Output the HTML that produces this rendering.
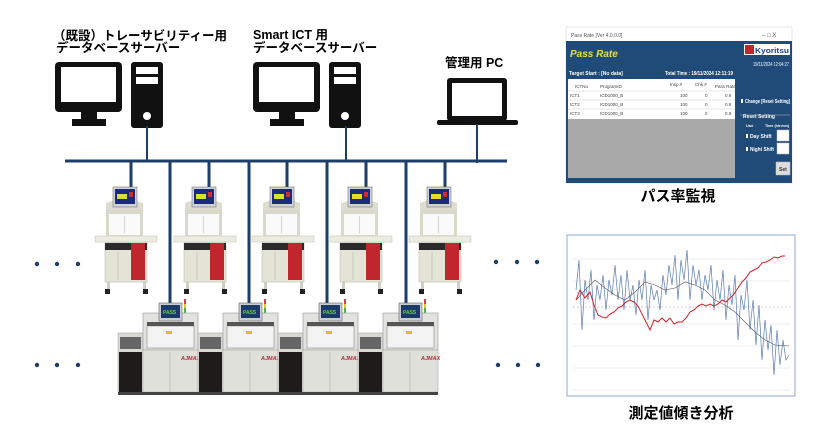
<!DOCTYPE html>
<html><head><meta charset="utf-8"><style>
html,body{margin:0;padding:0;background:#fff;}
svg{display:block;}
text{font-family:"Liberation Sans","Noto Sans CJK JP",sans-serif;}
</style></head><body>
<svg width="830" height="440" viewBox="0 0 830 440" xmlns="http://www.w3.org/2000/svg">
<defs>
<g id="top">
 <rect x="12" y="280" width="3" height="10" fill="#cfcfc4"/><rect x="48" y="280" width="3" height="10" fill="#cfcfc4"/>
 <rect x="10" y="289" width="5" height="5" fill="#222"/><rect x="48" y="289" width="5" height="5" fill="#222"/>
 <rect x="10" y="242" width="42" height="40" fill="#e3e3d6" stroke="#bdbdb0" stroke-width="0.6"/>
 <rect x="10" y="243" width="42" height="7" fill="#2a2a2a"/>
 <rect x="36" y="243" width="14" height="37" fill="#c0272d"/>
 <line x1="23" y1="252" x2="23" y2="280" stroke="#b7b7aa" stroke-width="0.6"/>
 <rect x="0" y="236" width="62" height="6" fill="#ecece2" stroke="#c5c5b8" stroke-width="0.6"/>
 <rect x="11" y="210" width="37" height="26" fill="#d8d8cb"/>
 <rect x="14" y="214" width="31" height="21" fill="#fafafa"/>
 <line x1="29.5" y1="216" x2="29.5" y2="233" stroke="#ccc" stroke-width="0.8"/>
 <path d="M11 210 L11 203 Q29 196 48 203 L48 210 Z" fill="#dddccf"/>
 <rect x="18" y="187" width="24" height="20" fill="#cfd2d6" stroke="#777" stroke-width="0.6"/>
 <rect x="20" y="189" width="20" height="15" fill="#1b2a7a"/>
 <rect x="22" y="194" width="10" height="5" fill="#d8e030"/>
 <rect x="34" y="192" width="4" height="5" fill="#c83030"/>
</g>
<g id="bot">
 <rect x="0" y="333" width="25" height="59" fill="#d9d9d5" stroke="#aaa" stroke-width="0.6"/>
 <rect x="2" y="337" width="21" height="12" fill="#666"/>
 <rect x="1" y="352" width="23" height="40" fill="#1e1a1a"/>
 <rect x="25" y="313" width="55" height="37" fill="#e2e2de" stroke="#999" stroke-width="0.6"/>
 <rect x="29" y="326" width="47" height="22" fill="#f3f3f3" stroke="#777" stroke-width="0.5"/>
 <rect x="29" y="322" width="47" height="4" fill="#555"/>
 <rect x="48" y="331" width="6" height="3" fill="#e0c020"/>
 <rect x="25" y="350" width="55" height="42" fill="#e0e0db" stroke="#aaa" stroke-width="0.6"/>
 <line x1="52" y1="352" x2="52" y2="392" stroke="#aaa" stroke-width="0.6"/>
 <text x="63" y="360" font-size="5.5" fill="#c0272d" font-style="italic" font-weight="bold" font-family="Liberation Serif,serif">AJMAX</text>
 <rect x="0" y="392" width="80" height="3" fill="#444"/>
 <rect x="41" y="303" width="23" height="18" fill="#c9ccd2" stroke="#666" stroke-width="0.6"/>
 <rect x="43" y="305" width="19" height="13" fill="#1b3a6a"/>
 <text x="45" y="314" font-size="5" fill="#6ad04a" font-weight="bold">PASS</text>
 <rect x="66" y="299" width="2" height="5" fill="#e04040"/><rect x="66" y="304" width="2" height="4" fill="#e8c030"/><rect x="66" y="308" width="2" height="5" fill="#50b050"/>
</g>
</defs>

<text x="53" y="40" font-size="12.5" font-weight="bold">（既設）トレーサビリティー用</text>
<text x="56" y="52" font-size="12.5" font-weight="bold">データベースサーバー</text>
<text x="253" y="39" font-size="12.5" font-weight="bold">Smart ICT 用</text>
<text x="253" y="52" font-size="12.5" font-weight="bold">データベースサーバー</text>
<text x="445" y="67" font-size="12.5" font-weight="bold">管理用 PC</text>

<rect x="55" y="62" width="67" height="50" rx="4" fill="#111"/>
<rect x="61" y="67" width="55" height="35" fill="#fff"/>
<rect x="81" y="112" width="16" height="8" fill="#111"/><rect x="72" y="119" width="34" height="7" fill="#111"/>
<rect x="131" y="62" width="32" height="66" rx="3" fill="#111"/>
<rect x="136" y="67" width="22" height="7" fill="#fff"/><rect x="136" y="77" width="22" height="7" fill="#fff"/>
<circle cx="147" cy="116" r="4" fill="#fff"/>
<rect x="253" y="62" width="67" height="50" rx="4" fill="#111"/>
<rect x="259" y="67" width="55" height="35" fill="#fff"/>
<rect x="279" y="112" width="16" height="8" fill="#111"/><rect x="270" y="119" width="34" height="7" fill="#111"/>
<rect x="329" y="62" width="32" height="66" rx="3" fill="#111"/>
<rect x="334" y="67" width="22" height="7" fill="#fff"/><rect x="334" y="77" width="22" height="7" fill="#fff"/>
<circle cx="345" cy="116" r="4" fill="#fff"/>
<rect x="447" y="78" width="60" height="43" rx="3" fill="#111"/>
<rect x="452" y="83" width="50" height="33" fill="#fff"/>
<rect x="437" y="120" width="81" height="5" rx="2" fill="#111"/>

<g stroke="#1d3d6b" stroke-width="3">
<line x1="65" y1="161" x2="507" y2="161"/>
<line x1="147" y1="126" x2="147" y2="161" stroke-width="2"/>
<line x1="346" y1="126" x2="346" y2="161" stroke-width="2"/>
<line x1="477" y1="124" x2="477" y2="163" stroke-width="2"/>
<line x1="131" y1="161" x2="131" y2="188"/><line x1="209" y1="161" x2="209" y2="188"/><line x1="287" y1="161" x2="287" y2="188"/><line x1="366" y1="161" x2="366" y2="188"/><line x1="445" y1="161" x2="445" y2="188"/>
<line x1="170" y1="161" x2="170" y2="304"/><line x1="249" y1="161" x2="249" y2="304"/><line x1="327" y1="161" x2="327" y2="304"/><line x1="406" y1="161" x2="406" y2="304"/>
</g>

<use href="#top" x="95"/><use href="#top" x="174"/><use href="#top" x="252"/><use href="#top" x="330"/><use href="#top" x="409"/>
<use href="#bot" x="118"/><use href="#bot" x="198"/><use href="#bot" x="278"/><use href="#bot" x="358"/>

<g fill="#1d3d6b">
<circle cx="37" cy="264" r="2.2"/><circle cx="57" cy="264" r="2.2"/><circle cx="78" cy="264" r="2.2"/>
<circle cx="37" cy="365" r="2.2"/><circle cx="57" cy="365" r="2.2"/><circle cx="78" cy="365" r="2.2"/>
<circle cx="496" cy="262" r="2.2"/><circle cx="517" cy="262" r="2.2"/><circle cx="537" cy="262" r="2.2"/>
<circle cx="498" cy="365" r="2.2"/><circle cx="518" cy="365" r="2.2"/><circle cx="538" cy="365" r="2.2"/>
</g>

<rect x="566" y="27" width="226" height="156" fill="#fff" stroke="#ccc" stroke-width="0.5"/>
<text x="571" y="37" font-size="5" fill="#555">Pass Rate [Ver 4.0.0.0]</text>
<text x="762" y="37" font-size="6" fill="#555">–   □   X</text>
<rect x="566" y="41" width="226" height="142" fill="#204a78"/>
<text x="570" y="57" font-size="10" font-weight="bold" font-style="italic" fill="#e8e040">Pass Rate</text>
<rect x="744" y="44" width="46" height="11" fill="#fff"/>
<rect x="745" y="45" width="9" height="9" fill="#c0272d"/>
<text x="755" y="53" font-size="7" font-weight="bold" fill="#1d3d8b" textLength="34" lengthAdjust="spacingAndGlyphs">Kyoritsu</text>
<text x="753" y="66" font-size="5" fill="#fff" textLength="36" lengthAdjust="spacingAndGlyphs">19/11/2024 12:04:27</text>
<text x="569" y="75" font-size="5" fill="#fff" font-weight="bold">Target Start :  [No data]</text>
<text x="665" y="75" font-size="5" fill="#fff" font-weight="bold" textLength="68" lengthAdjust="spacingAndGlyphs">Total Time :  19/11/2024 12:11:19</text>
<rect x="568" y="79" width="167" height="40" fill="#fff"/>
<g stroke="#ccc" stroke-width="0.5"><line x1="568" y1="91" x2="735" y2="91"/><line x1="568" y1="100" x2="735" y2="100"/><line x1="568" y1="109" x2="735" y2="109"/></g>
<g font-size="4.5" fill="#444">
<text x="575" y="88">ICTNo</text><text x="600" y="88">ProgramID</text><text x="670" y="86">Insp.#</text><text x="695" y="86">Chk.#</text><text x="715" y="88">Pass Rate</text>
<text x="570" y="97">ICT1</text><text x="600" y="97">ICD1000_B</text><text x="680" y="97">100</text><text x="705" y="97">0</text><text x="725" y="97">0.9</text>
<text x="570" y="106">ICT2</text><text x="600" y="106">ICD1000_B</text><text x="680" y="106">100</text><text x="705" y="106">0</text><text x="725" y="106">0.9</text>
<text x="570" y="115">ICT3</text><text x="600" y="115">ICD1000_B</text><text x="680" y="115">100</text><text x="705" y="115">0</text><text x="725" y="115">0.9</text>
</g>
<rect x="568" y="119" width="167" height="59" fill="#a9a9a9"/>
<g font-size="5" fill="#fff" font-weight="bold">
<rect x="741" y="99" width="2" height="4" fill="#fff"/><text x="745" y="103" textLength="45" lengthAdjust="spacingAndGlyphs">Change [Reset Setting]</text>
<text x="743" y="118">Reset Setting</text>
<text x="746" y="127" font-size="4">Use</text><text x="765" y="127" font-size="4" textLength="24" lengthAdjust="spacingAndGlyphs">Time (hh:mm)</text>
<rect x="746" y="134" width="2" height="4" fill="#fff"/><text x="750" y="138">Day Shift</text>
<rect x="746" y="147" width="2" height="4" fill="#fff"/><text x="750" y="151" textLength="24" lengthAdjust="spacingAndGlyphs">Night Shift</text>
</g>
<g stroke="#bbb" stroke-width="0.5" fill="#fff"><line x1="740" y1="115" x2="790" y2="115"/>
<rect x="777" y="130" width="12" height="11"/><rect x="777" y="143" width="12" height="11"/>
<rect x="776" y="162" width="14" height="13" fill="#ddd"/></g>
<text x="779" y="171" font-size="5" font-weight="bold" fill="#333">Set</text>
<text x="678" y="201" font-size="15" font-weight="bold" text-anchor="middle">パス率監視</text>

<rect x="567" y="235" width="228" height="161" fill="#fff" stroke="#8fa8d0" stroke-width="1"/>
<g stroke="#e6e6e6" stroke-width="0.7">
<line x1="573" y1="259" x2="790" y2="259"/><line x1="573" y1="281" x2="790" y2="281"/><line x1="573" y1="324" x2="790" y2="324"/><line x1="573" y1="346" x2="790" y2="346"/><line x1="573" y1="368" x2="790" y2="368"/><line x1="573" y1="390" x2="790" y2="390"/>
</g>
<line x1="573" y1="307" x2="790" y2="307" stroke="#999" stroke-width="0.6" stroke-dasharray="2,2"/>
<polyline fill="none" stroke="#5a7bb0" stroke-width="0.7" points="576,290 579,260 582,330 585,280 588,300 591,270 594,320 597,285 600,300 603,275 606,310 609,280 612,295 615,265 618,300 621,275 624,310 627,270 630,300 633,285 636,315 639,280 642,300 645,270 648,320 651,285 654,300 657,290 660,310 663,275 666,295 669,265 672,285 675,255 678,300 681,260 684,280 687,250 690,300 693,265 696,285 699,270 702,300 705,275 708,290 711,265 714,310 717,280 720,300 723,270 726,320 729,285 732,305 735,275 738,340 741,295 744,310 747,280 750,330 753,300 756,345 759,305 762,360 765,320 768,350 771,325 774,375 777,330 780,365 783,340 786,360 789,355"/>
<polyline fill="none" stroke="#555" stroke-width="0.6" points="576,300 585,290 595,280 605,288 615,295 625,300 635,292 645,282 655,285 665,290 675,288 685,282 695,285 705,290 715,300 725,305 735,312 745,322 755,332 765,340 775,345 789,346"/>
<polyline fill="none" stroke="#d0202a" stroke-width="1" points="576,300 580,290 585,298 590,292 594,305 598,315 602,317 606,318 610,314 614,312 618,308 622,306 626,302 630,300 634,302 638,306 642,314 646,322 650,330 654,320 658,322 662,318 666,322 670,318 674,324 678,322 682,322 686,318 690,312 694,310 698,306 702,304 706,306 710,304 714,306 718,304 722,300 726,302 730,298 734,294 738,288 742,282 746,278 750,272 754,270 758,268 762,263 766,262 770,260 774,257 778,258 782,256 785,256"/>
<text x="681" y="418" font-size="15" font-weight="bold" text-anchor="middle">測定値傾き分析</text>
</svg>
</body></html>
